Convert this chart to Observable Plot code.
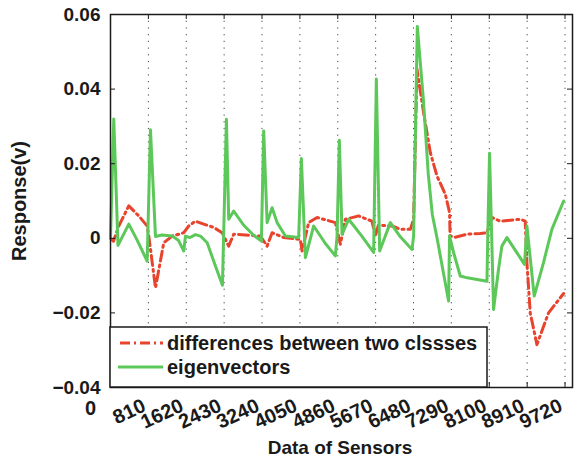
<!DOCTYPE html>
<html><head><meta charset="utf-8">
<script src="https://cdn.jsdelivr.net/npm/d3@7"></script>
<script src="https://cdn.jsdelivr.net/npm/@observablehq/plot@0.6"></script>
<style>body{margin:0;background:#fff} #chart{width:575px;height:460px}</style>
</head><body><div id="chart"></div>
<script>
// ---- data ----
const seriesNames = ["differences between two clssses", "eigenvectors"];
const xTitle = "Data of Sensors";
const yTitle = "Response(v)";
const xTicks = [0, 810, 1620, 2430, 3240, 4050, 4860, 5670, 6480, 7290, 8100, 8910, 9720];
const yTicks = [-0.04, -0.02, 0, 0.02, 0.04, 0.06];

const eigX = [0, 70, 160, 391, 570, 784, 855, 962, 1100, 1319, 1450, 1567, 1603, 1700, 1817, 1923, 2067, 2244, 2394, 2479, 2528, 2635, 2849, 3062, 3227, 3276, 3349, 3456, 3563, 3740, 4024, 4082, 4168, 4345, 4595, 4809, 4845, 4894, 4952, 5093, 5379, 5627, 5685, 5756, 5984, 6198, 6448, 6482, 6561, 6690, 6796, 6882, 6989, 7117, 7230, 7251, 7337, 7480, 7630, 8051, 8068, 8106, 8192, 8298, 8370, 8478, 8620, 8854, 8905, 9061, 9260, 9439, 9690];
const eigY = [0, 0.032, -0.0019, 0.0038, -0.0005, -0.0061, 0.0291, 0.0005, 0.0009, 0.0006, -0.0005, -0.0034, 0.0006, 0.0002, 0.0010, 0.0006, -0.0012, -0.0074, -0.0126, 0.0319, 0.0051, 0.0073, 0.0035, 0.0008, -0.0007, 0.0288, 0.0042, 0.0082, 0.0042, 0.0006, 0.0002, 0.0214, -0.0052, 0.0033, -0.0014, -0.0047, 0.0006, 0.0263, 0.0011, 0.0051, 0.0005, -0.0038, 0.0427, -0.0034, 0.0042, 0.0004, -0.0030, 0.0006, 0.0568, 0.0373, 0.0172, 0.0064, -0.0003, -0.0091, -0.0168, 0.0006, -0.0038, -0.0101, -0.0106, -0.0115, 0.0006, 0.0228, -0.0191, -0.0083, -0.0021, 0.0002, -0.0025, -0.0070, 0.0033, -0.0155, -0.0065, 0.0024, 0.0100];

const diffX = [0, 64, 177, 391, 605, 784, 819, 962, 1139, 1319, 1567, 1673, 1817, 1994, 2208, 2387, 2528, 2635, 3206, 3349, 3456, 3704, 4061, 4097, 4238, 4418, 4809, 4916, 5022, 5307, 5592, 5663, 5728, 6020, 6198, 6412, 6482, 6554, 6695, 6839, 6982, 7160, 7251, 7262, 7373, 7623, 7908, 8051, 8155, 8335, 8762, 8869, 8905, 8976, 9119, 9367, 9690];
const diffY = [0, -0.0008, 0.0033, 0.0087, 0.0060, 0.0033, 0.0006, -0.0133, -0.0012, 0.0006, 0.0015, 0.0033, 0.0046, 0.0038, 0.0029, 0.0015, -0.0021, 0.0011, 0.0006, -0.0021, 0.0015, 0.0002, -0.0003, -0.0034, 0.0042, 0.0056, 0.0042, -0.0016, 0.0051, 0.0060, 0.0046, 0.0006, 0.0035, 0.0033, 0.0024, 0.0024, 0.0051, 0.0454, 0.0337, 0.0230, 0.0167, 0.0118, 0.0069, 0.0006, 0.0003, 0.0011, 0.0013, 0.0015, 0.0056, 0.0046, 0.0051, 0.0046, -0.0065, -0.0200, -0.0285, -0.0200, -0.0148];

// ---- build ----
const eig = eigX.map((x, i) => ({x, y: eigY[i]}));
const diff = diffX.map((x, i) => ({x, y: diffY[i]}));
const FONT = "'Liberation Sans', Arial, Helvetica, sans-serif";
const RED = "#e8432d", GREEN = "#5cc85a", INK = "#1a1a1a";
const xMax = 9880, yMin = -0.04, yMax = 0.06;
const tickLenX = xMax * 5 / 462, tickLenY = (yMax - yMin) * 5 / 373;
const fmtY = d => d === 0 ? "0" : d3.format(".2f")(d);
const fmtX = d3.format("d");

const chart = Plot.plot({
  width: 575, height: 460,
  marginLeft: 110, marginRight: 3, marginTop: 14, marginBottom: 73,
  style: {fontFamily: FONT, fontWeight: "bold", fontSize: "19px", color: INK, background: "#fff"},
  x: {domain: [0, xMax]},
  y: {domain: [yMin, yMax]},
  marks: [
    Plot.ruleX(xTicks.filter(d => d > 0), {stroke: "#444", strokeDasharray: "1.2,5.5", strokeWidth: 1}),
    Plot.line(diff, {x: "x", y: "y", stroke: RED, strokeWidth: 3, strokeDasharray: "10,4,2,4"}),
    Plot.line(eig, {x: "x", y: "y", stroke: GREEN, strokeWidth: 3, strokeLinejoin: "round"}),
    Plot.ruleY(yTicks, {x1: 0, x2: tickLenX, stroke: INK}),
    Plot.ruleY(yTicks, {x1: xMax - tickLenX, x2: xMax, stroke: INK}),
    Plot.ruleX(xTicks, {y1: yMin, y2: yMin + tickLenY, stroke: INK}),
    Plot.ruleX(xTicks, {y1: yMax - tickLenY, y2: yMax, stroke: INK}),
    Plot.frame({stroke: INK, strokeWidth: 1.5}),
    Plot.axisY(yTicks, {tickSize: 0, tickPadding: 10, label: null, fontSize: 19, tickFormat: fmtY}),
    Plot.axisX(xTicks.filter(d => d > 0), {tickSize: 0, tickPadding: 17, tickRotate: -25, label: null, fontSize: 20, tickFormat: fmtX, dx: -4}),
    Plot.text([0], {x: d => d, frameAnchor: "bottom", text: d => fmtX(d), dx: -20, dy: 27, fontSize: 20})
  ]
});
document.getElementById("chart").appendChild(chart);

const svg = d3.select(chart);
// axis titles
svg.append("text").attr("transform", "translate(26,201) rotate(-90)")
  .attr("text-anchor", "middle").attr("font-size", 20).attr("font-weight", "bold")
  .attr("font-family", FONT).attr("fill", INK).text(yTitle);
svg.append("text").attr("x", 340).attr("y", 454)
  .attr("text-anchor", "middle").attr("font-size", 19).attr("font-weight", "bold")
  .attr("font-family", FONT).attr("fill", INK).text(xTitle);
// legend
const lg = svg.append("g").attr("font-family", FONT).attr("font-weight", "bold")
  .attr("font-size", 20).attr("fill", INK).attr("text-anchor", "start");
lg.append("rect").attr("x", 110).attr("y", 327).attr("width", 377).attr("height", 60)
  .attr("fill", "#fff").attr("stroke", INK).attr("stroke-width", 1.5);
lg.append("line").attr("x1", 120).attr("x2", 163).attr("y1", 343).attr("y2", 343)
  .attr("stroke", RED).attr("stroke-width", 3).attr("stroke-dasharray", "10,4,2,4");
lg.append("line").attr("x1", 118).attr("x2", 163).attr("y1", 367).attr("y2", 367)
  .attr("stroke", GREEN).attr("stroke-width", 3);
lg.append("text").attr("x", 167).attr("y", 350).attr("text-anchor", "start").text(seriesNames[0]);
lg.append("text").attr("x", 167).attr("y", 374).attr("text-anchor", "start").text(seriesNames[1]);
</script>
</body></html>
